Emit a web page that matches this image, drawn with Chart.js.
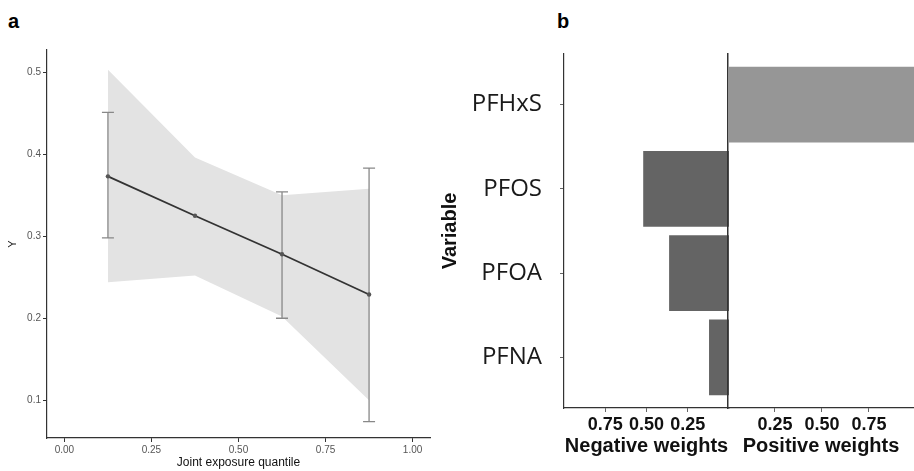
<!DOCTYPE html>
<html>
<head>
<meta charset="utf-8">
<script src="https://cdn.jsdelivr.net/npm/chart.js@4.4.1/dist/chart.umd.min.js"></script>
<style>
html,body{margin:0;padding:0;background:#fff;overflow:hidden;width:914px;height:471px;}
.box{position:absolute;top:0;height:471px;}
.tag{position:absolute;font:bold 20px "Liberation Sans",Arial,sans-serif;color:#000;line-height:24px;}
</style>
</head>
<body>
<div class="tag" style="left:8px;top:9px">a</div>
<div class="tag" style="left:557px;top:9px">b</div>
<div class="box" style="left:0;width:440px"><canvas id="chartA"></canvas></div>
<div class="box" style="left:430px;width:300px"><canvas id="chartNeg"></canvas></div>
<div class="box" style="left:727px;width:187px"><canvas id="chartPos"></canvas></div>
<script>
// panel a
const quantiles=[0.125,0.375,0.625,0.875];
const estimate=[0.373,0.325,0.278,0.229];
const bandLow=[0.244,0.252,0.202,0.100];
const bandHigh=[0.503,0.396,0.350,0.358];
const ciLow=[0.298,null,0.200,0.074];
const ciHigh=[0.451,null,0.354,0.383];
const xTicks=[0,0.25,0.5,0.75,1];
const yTicks=[0.1,0.2,0.3,0.4,0.5];

// panel b
const variables=["PFHxS","PFOS","PFOA","PFNA"];
const negWeights=[0,0.52,0.363,0.121];
const posWeights=[1,0,0,0];
const negTicks=[0.25,0.5,0.75];
const posTicks=[0.25,0.5,0.75];

const sans="'Liberation Sans', Arial, sans-serif";
const axisCol="#333";

const errorBars={
id:"errorBars",
afterDatasetDraw(chart,args){
if(args.index!==1) return;
const {ctx,scales:{x,y}}=chart;
ctx.save();
ctx.strokeStyle="#888";
ctx.lineWidth=1.3;
quantiles.forEach((q,i)=>{
if(ciLow[i]==null) return;
const px=x.getPixelForValue(q);
const lo=y.getPixelForValue(ciLow[i]);
const hi=y.getPixelForValue(ciHigh[i]);
ctx.beginPath();
ctx.moveTo(px,lo);ctx.lineTo(px,hi);
ctx.moveTo(px-6,lo);ctx.lineTo(px+6,lo);
ctx.moveTo(px-6,hi);ctx.lineTo(px+6,hi);
ctx.stroke();
});
ctx.restore();
}
};

new Chart(document.getElementById("chartA"),{
type:"line",
data:{
datasets:[{
label:"estimate",
data:quantiles.map((q,i)=>({x:q,y:estimate[i]})),
borderColor:"#333",
borderWidth:1.8,
pointRadius:2.2,
pointBackgroundColor:"#555",
pointBorderWidth:0,
fill:false
},{
label:"upper",
data:quantiles.map((q,i)=>({x:q,y:bandHigh[i]})),
borderColor:"rgba(0,0,0,0)",
pointRadius:0,
backgroundColor:"#e3e3e3",
fill:"+1"
},{
label:"lower",
data:quantiles.map((q,i)=>({x:q,y:bandLow[i]})),
borderColor:"rgba(0,0,0,0)",
pointRadius:0,
fill:false
}]
},
options:{
responsive:true,
maintainAspectRatio:false,
animation:false,
devicePixelRatio:1,
layout:{padding:{top:50,right:10,left:0,bottom:0}},
plugins:{legend:{display:false},tooltip:{enabled:false}},
scales:{
x:{
type:"linear",min:-0.05,max:1.05,
afterBuildTicks:s=>{s.ticks=xTicks.map(v=>({value:v}))},
afterFit:s=>{s.height=33},
grid:{drawOnChartArea:false,tickLength:4,color:axisCol},
border:{color:axisCol,width:1.2},
ticks:{color:"#555",font:{family:sans,size:10},padding:2,maxRotation:0,callback:v=>v.toFixed(2)},
title:{display:true,text:"Joint exposure quantile",color:"#111",font:{family:sans,size:12},padding:{top:0,bottom:1}}
},
y:{
type:"linear",min:0.054,max:0.527,
afterBuildTicks:s=>{s.ticks=yTicks.map(v=>({value:v}))},
afterFit:s=>{s.width=47},
grid:{drawOnChartArea:false,tickLength:4,color:axisCol},
border:{color:axisCol,width:1.2},
ticks:{color:"#555",font:{family:sans,size:10},padding:2,callback:v=>v.toFixed(1)},
title:{display:true,text:"Y",color:"#111",font:{family:sans,size:11},padding:{top:6,bottom:0}}
}
}
},
plugins:[errorBars]
});

const catAxis={
type:"linear",reverse:true,min:-0.6,max:3.6,offset:false,
afterBuildTicks:s=>{s.ticks=variables.map((v,i)=>({value:i}))}
};

new Chart(document.getElementById("chartNeg"),{
type:"bar",
data:{
datasets:[{
label:"Negative weights",
data:variables.map((v,i)=>({x:negWeights[i],y:i})),
backgroundColor:"#646464",
borderWidth:0,
barPercentage:0.9,
categoryPercentage:1
}]
},
options:{
indexAxis:"y",
responsive:true,
maintainAspectRatio:false,
animation:false,
devicePixelRatio:1,
layout:{padding:{top:54,right:1,left:0,bottom:0}},
plugins:{legend:{display:false},tooltip:{enabled:false}},
scales:{
x:{
type:"linear",reverse:true,min:0,max:1,
afterBuildTicks:s=>{s.ticks=negTicks.map(v=>({value:v}))},
afterFit:s=>{s.height=63},
grid:{drawOnChartArea:false,tickLength:4,color:"#666"},
border:{color:axisCol,width:1.2},
ticks:{color:"#111",font:{family:sans,size:18,weight:"bold"},padding:2,maxRotation:0,autoSkip:false,callback:v=>v.toFixed(2)},
title:{display:true,text:"Negative weights",color:"#111",font:{family:sans,size:20,weight:"bold"},padding:{top:0,bottom:13}}
},
y:{
...catAxis,
afterFit:s=>{s.width=134},
grid:{drawOnChartArea:false,offset:false,tickLength:4,color:"#666"},
border:{color:axisCol,width:1.2},
ticks:{color:"#1a1a1a",font:{family:"'Open Sans', sans-serif",size:24},padding:18,autoSkip:false,callback:v=>variables[v]},
title:{display:true,text:"Variable",color:"#111",font:{family:sans,size:20,weight:"bold"},padding:{top:8,bottom:0}}
}
}
}
});

new Chart(document.getElementById("chartPos"),{
type:"bar",
data:{
datasets:[{
label:"Positive weights",
data:variables.map((v,i)=>({x:posWeights[i],y:i})),
backgroundColor:"#969696",
borderWidth:0,
barPercentage:0.9,
categoryPercentage:1
}]
},
options:{
indexAxis:"y",
responsive:true,
maintainAspectRatio:false,
animation:false,
devicePixelRatio:1,
layout:{padding:{top:54,right:0,left:0,bottom:0}},
plugins:{legend:{display:false},tooltip:{enabled:false}},
scales:{
x:{
type:"linear",min:0,max:0.99,
afterBuildTicks:s=>{s.ticks=posTicks.map(v=>({value:v}))},
afterFit:s=>{s.height=63},
grid:{drawOnChartArea:false,tickLength:4,color:"#666"},
border:{color:axisCol,width:1.2},
ticks:{color:"#111",font:{family:sans,size:18,weight:"bold"},padding:2,maxRotation:0,autoSkip:false,callback:v=>v.toFixed(2)},
title:{display:true,text:"Positive weights",color:"#111",font:{family:sans,size:20,weight:"bold"},padding:{top:0,bottom:13}}
},
y:{
...catAxis,
afterFit:s=>{s.width=1},
grid:{display:false,offset:false},
border:{color:axisCol,width:1.5},
ticks:{display:false}
}
}
}
});
</script>
</body>
</html>
